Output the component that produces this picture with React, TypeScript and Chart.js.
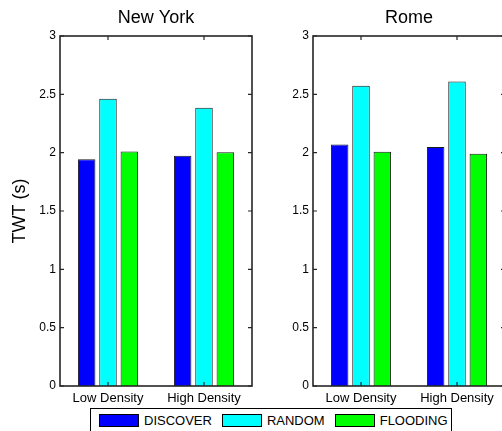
import React, { useEffect, useRef } from "react";
import { Chart, registerables } from "chart.js";

Chart.register(...registerables);

const categories = ["Low Density", "High Density"];
const seriesNames = ["DISCOVER", "RANDOM", "FLOODING"];
const seriesColors = ["#0000ff", "#00ffff", "#00ff00"];

const nyDiscover = [1.943, 1.974];
const nyRandom = [2.462, 2.385];
const nyFlooding = [2.011, 2.003];

const romeDiscover = [2.071, 2.048];
const romeRandom = [2.574, 2.611];
const romeFlooding = [2.008, 1.991];

const yTickValues = [0, 0.5, 1, 1.5, 2, 2.5, 3];
const yTickLabels = ["0", "0.5", "1", "1.5", "2", "2.5", "3"];

const FONT = "'Liberation Sans', Arial, Helvetica, sans-serif";

const framePlugin = {
  id: "matlabFrame",
  afterDraw(chart: any) {
    const { ctx, chartArea, scales } = chart;
    const { left, right, top, bottom } = chartArea;
    const x = scales.x;
    const y = scales.y;
    ctx.save();
    ctx.strokeStyle = "#262626";
    ctx.lineWidth = 1.2;
    ctx.beginPath();
    const tl = 4;
    yTickValues.forEach((v) => {
      const py = y.getPixelForValue(v);
      ctx.moveTo(left, py);
      ctx.lineTo(left + tl, py);
      ctx.moveTo(right, py);
      ctx.lineTo(right - tl, py);
    });
    categories.forEach((_, i) => {
      const px = x.getPixelForValue(i);
      ctx.moveTo(px, top);
      ctx.lineTo(px, top + tl);
      ctx.moveTo(px, bottom);
      ctx.lineTo(px, bottom - tl);
    });
    ctx.stroke();
    ctx.lineWidth = 1.6;
    ctx.strokeRect(left, top, right - left, bottom - top);
    ctx.restore();
  },
};

function makeConfig(title: string, values: number[][], yAxisWidth: number, padRight: number, showYTitle: boolean) {
  return {
    type: "bar" as const,
    data: {
      labels: categories,
      datasets: seriesNames.map((name, i) => ({
        label: name,
        data: values[i],
        backgroundColor: seriesColors[i],
        borderColor: "#1a1a1a",
        borderWidth: 1,
        categoryPercentage: 0.667,
        barPercentage: 0.82,
      })),
    },
    options: {
      responsive: false,
      animation: false,
      devicePixelRatio: 1,
      layout: { padding: { left: 0, right: padRight, top: 0, bottom: 25 } },
      plugins: {
        legend: { display: false },
        tooltip: { enabled: false },
        title: {
          display: true,
          text: title,
          fullSize: false,
          color: "#000",
          font: { family: FONT, size: 18, weight: "normal" as const, lineHeight: 1.2 },
          padding: { top: 7, bottom: 7.4 },
        },
      },
      scales: {
        x: {
          type: "category" as const,
          grid: { display: false, drawTicks: false },
          border: { display: false },
          ticks: {
            color: "#000",
            font: { family: FONT, size: 13 },
            padding: 5,
            maxRotation: 0,
            autoSkip: false,
          },
          afterFit(scale: any) {
            scale.height = 20;
          },
        },
        y: {
          type: "linear" as const,
          min: 0,
          max: 3,
          grid: { display: false, drawTicks: false },
          border: { display: false },
          afterBuildTicks(scale: any) {
            scale.ticks = yTickValues.map((v) => ({ value: v }));
          },
          ticks: {
            color: "#000",
            font: { family: FONT, size: 12 },
            padding: 4,
            callback: (v: any) => {
              const idx = yTickValues.indexOf(Number(v));
              return idx >= 0 ? yTickLabels[idx] : "";
            },
          },
          title: {
            display: showYTitle,
            text: "TWT (s)",
            color: "#000",
            font: { family: FONT, size: 18, lineHeight: 1.2 },
            padding: { top: 9, bottom: 0 },
          },
          afterFit(scale: any) {
            scale.width = yAxisWidth;
          },
        },
      },
    },
    plugins: [framePlugin],
  };
}

function Panel(props: { title: string; values: number[][]; left: number; yAxisWidth: number; padRight: number; showYTitle: boolean }) {
  const ref = useRef<HTMLCanvasElement | null>(null);
  useEffect(() => {
    if (!ref.current) return;
    const chart = new Chart(
      ref.current,
      makeConfig(props.title, props.values, props.yAxisWidth, props.padRight, props.showYTitle) as any
    );
    return () => chart.destroy();
  }, []);
  return (
    <canvas
      ref={ref}
      width={270}
      height={431}
      style={{ position: "absolute", left: props.left, top: 0, width: 270, height: 431 }}
    />
  );
}

export default function App() {
  return (
    <div
      style={{
        position: "fixed",
        left: 0,
        top: 0,
        width: 502,
        height: 431,
        overflow: "hidden",
        background: "#fff",
      }}
    >
      <Panel
        title="New York"
        values={[nyDiscover, nyRandom, nyFlooding]}
        left={0}
        yAxisWidth={60}
        padRight={18}
        showYTitle={true}
      />
      <Panel
        title="Rome"
        values={[romeDiscover, romeRandom, romeFlooding]}
        left={260}
        yAxisWidth={53}
        padRight={25}
        showYTitle={false}
      />
      <div
        style={{
          position: "absolute",
          left: 90,
          top: 408,
          width: 362,
          height: 30,
          border: "1px solid #000",
          background: "#fff",
          display: "flex",
          alignItems: "flex-start",
          paddingLeft: 8,
          paddingTop: 5,
          boxSizing: "border-box",
          fontFamily: FONT,
          fontSize: 13,
          color: "#000",
        }}
      >
        {seriesNames.map((name, i) => (
          <div key={name} style={{ display: "flex", alignItems: "center", marginRight: 10, height: 13 }}>
            <div
              style={{
                width: 40,
                height: 13,
                boxSizing: "border-box",
                border: "1px solid #000",
                background: seriesColors[i],
                marginRight: 5,
              }}
            />
            <span style={{ lineHeight: "13px", whiteSpace: "nowrap" }}>{name}</span>
          </div>
        ))}
      </div>
    </div>
  );
}
